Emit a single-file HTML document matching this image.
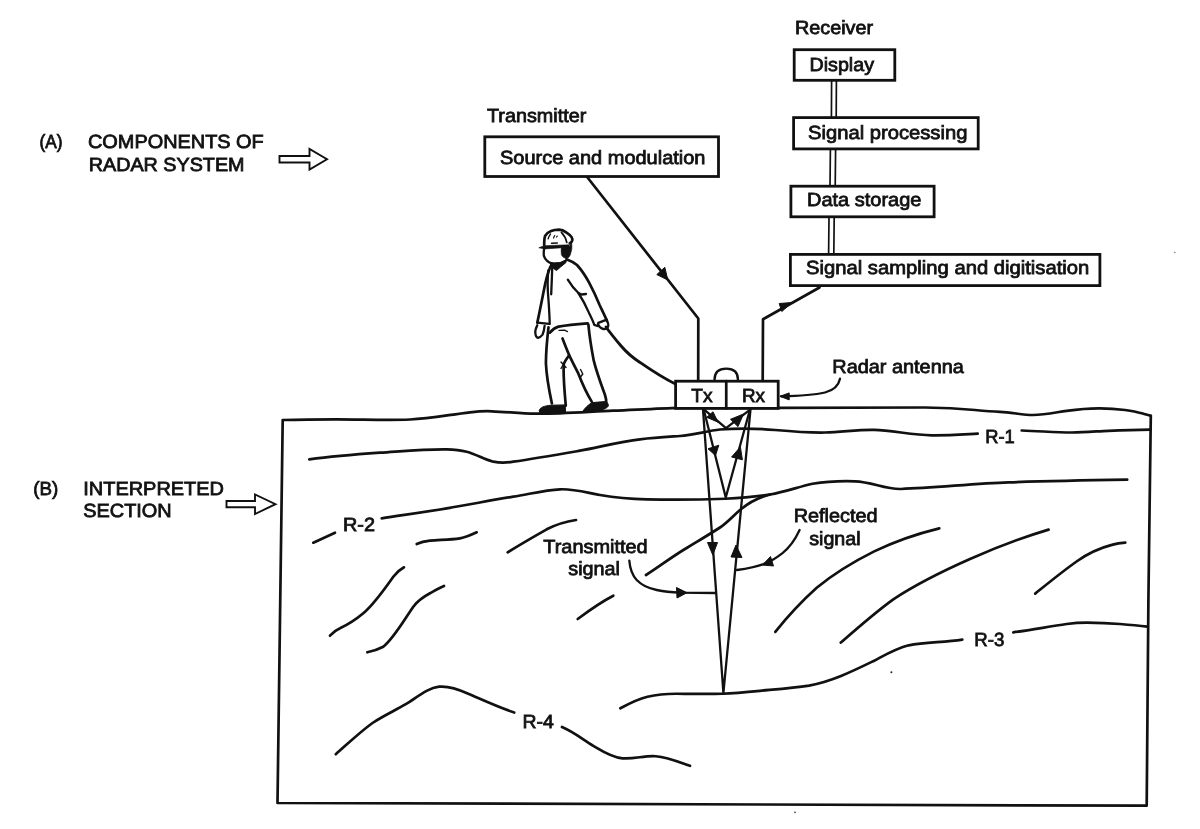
<!DOCTYPE html>
<html lang="en">
<head>
<meta charset="utf-8">
<title>Ground penetrating radar system</title>
<style>
html,body{margin:0;padding:0;background:#fff;}
body{width:1200px;height:829px;overflow:hidden;}
svg{display:block;filter:grayscale(1);}
text{text-rendering:geometricPrecision;font-family:"Liberation Sans",Arial,Helvetica,sans-serif;font-size:19px;fill:#111;stroke:#111;stroke-width:0.8px;}
.ln{fill:none;stroke:#111;stroke-width:2.7;stroke-linecap:round;stroke-linejoin:round;}
.th{fill:none;stroke:#111;stroke-width:2.3;stroke-linecap:round;stroke-linejoin:round;}
.bx{fill:#fff;stroke:#111;stroke-width:2.8;}
.fl{fill:#111;stroke:#111;stroke-width:1;stroke-linejoin:round;}
.ar{fill:#fff;stroke:#111;stroke-width:1.9;stroke-linejoin:miter;}
</style>
</head>
<body>
<svg width="1200" height="829" viewBox="0 0 1200 829">
<rect x="0" y="0" width="1200" height="829" fill="#fff"/>

<!-- ===== labels left ===== -->
<g id="labels">
<text x="39.5" y="147.5" textLength="23" lengthAdjust="spacingAndGlyphs">(A)</text>
<text x="88" y="147.5" textLength="175.75" lengthAdjust="spacingAndGlyphs">COMPONENTS OF</text>
<text x="88.75" y="171.25" textLength="155.75" lengthAdjust="spacingAndGlyphs">RADAR SYSTEM</text>
<path class="ar" d="M279.5 156 L309.5 156 L309.5 149 L327 159.2 L309.5 169.5 L309.5 162.5 L279.5 162.5 Z"/>
<text x="33.3" y="495" textLength="25" lengthAdjust="spacingAndGlyphs">(B)</text>
<text x="83.3" y="495" textLength="140.7" lengthAdjust="spacingAndGlyphs">INTERPRETED</text>
<text x="83.3" y="516.7" textLength="88.4" lengthAdjust="spacingAndGlyphs">SECTION</text>
<path class="ar" d="M226.5 501 L255 501 L255 494.5 L275.5 504.2 L255 514 L255 507.3 L226.5 507.3 Z"/>
</g>

<!-- ===== transmitter ===== -->
<g id="transmitter">
<text x="487" y="122" textLength="99.25" lengthAdjust="spacingAndGlyphs">Transmitter</text>
<rect class="bx" x="484.8" y="136.8" width="233.7" height="39.7"/>
<text x="500" y="164.25" textLength="205.5" lengthAdjust="spacingAndGlyphs">Source and modulation</text>
<path class="ln" d="M587.5 177.5 L698.3 318.5 L698.2 380"/>
<path class="fl" d="M667.8 280 L656.8 274.6 L664.8 267.3 Z"/>
</g>

<!-- ===== receiver ===== -->
<g id="receiver">
<text x="795" y="34" textLength="78" lengthAdjust="spacingAndGlyphs">Receiver</text>
<path class="th" style="stroke-width:1.7" d="M831.6 81 L831.4 118 M836.4 81 L836.2 118 M830.4 149 L830 187 M835.6 149 L835.2 187 M829 217 L828.6 255 M834.2 217 L833.8 255"/>
<rect class="bx" x="794.2" y="49.7" width="100.6" height="30.6"/>
<text x="809.5" y="70.5" textLength="64.5" lengthAdjust="spacingAndGlyphs">Display</text>
<rect class="bx" x="793.6" y="117.6" width="184.6" height="31.3"/>
<text x="808.1" y="139.4" textLength="159.3" lengthAdjust="spacingAndGlyphs">Signal processing</text>
<rect class="bx" x="790.9" y="186.2" width="143.2" height="30.6"/>
<text x="807" y="206.3" textLength="114.4" lengthAdjust="spacingAndGlyphs">Data storage</text>
<rect class="bx" x="790.4" y="254.4" width="309.5" height="31.2"/>
<text x="806" y="274.4" textLength="283.3" lengthAdjust="spacingAndGlyphs">Signal sampling and digitisation</text>
<path class="ln" d="M762.7 380 L763 319.3 L819.5 287.5"/>
<path class="fl" d="M792 302.5 L781.8 311.5 L779.2 303.5 Z"/>
</g>

<!-- ===== section box and ground ===== -->
<g id="section">
<path class="ln" d="M282.7 420 L277.5 803 L1146.7 805.7 L1148.4 600 L1150.8 415.8"/>
<!-- ground surface -->
<path class="ln" d="M283.3 420 C300 419.6 318 419.4 335 419.3 C360 419.2 385 420.4 410 419.5 C430 418.6 450 414.6 470 412.3 C478 411.4 485 411 492 411.3 C506 411.8 520 413.4 535 413.7 C560 414 590 411.6 613.3 410.7 C640 409.5 660 408.3 680 407.8 L779 407.8 C830 407.3 880 407.2 925 407.5 C945 407.7 960 408.6 975 410 C985 410.9 993 411.5 1000 411.8 C1012 412.4 1023 415 1033 415 C1045 415 1056 412.3 1066.7 410.8 C1078 409.2 1089 408.2 1100 408.3 C1109 408.4 1117 409 1125 410 C1131 410.9 1137 412 1141.7 413.3 C1145 414.2 1148 415 1150.8 415.8"/>
<!-- R-1 -->
<path class="ln" d="M309.3 459.3 C335 456 355 454.5 380 452.7 C405 451 425 449 446.7 449.3 C455 449.5 460 450 466.7 451.7 C477 454.5 484 459.5 493.3 461.7 C500 463 507 462.8 513.3 461.7 C535 458.5 558 454.5 580 450.7 C600 447 620 441.5 640 439.3 C655 437.5 665 437 680 436 C693 435 707 431 720 429.5 C740 428 758 428.5 775 430 C792 431.5 808 432.8 825 432.5 C842 432.2 858 429.5 874.2 429.9 C892 430.3 912 435 931.7 435.3 C948 435.5 962 434.5 977.7 433.7"/>
<text x="985.3" y="443" textLength="29.5" lengthAdjust="spacingAndGlyphs">R-1</text>
<path class="ln" d="M1021.7 430.5 C1040 431 1055 432.5 1071.7 432.5 C1085 432.3 1097 431.3 1108.3 430.8 C1122 430.3 1136 429.9 1150 429.7"/>
<!-- R-2 / second horizon -->
<path class="ln" d="M313.3 542.7 L335 532.7"/>
<text x="343" y="530.5" textLength="32" lengthAdjust="spacingAndGlyphs">R-2</text>
<path class="ln" d="M381.7 518.3 C403 515 425 512 446.7 508.3 C470 504.5 492 500 513.3 496.7 C530 494 545 490 560 489.3 C574 488.7 586 492.5 600 495 C615 497.6 630 499 646.7 499.3 C660 499.6 690 500 725 498.75 C742 498 756 496.8 770 494.5 C785 492 798 487 812.5 483.75 C826 481.5 838 480.8 855 481.3 C872 481.8 885 489.5 901 489 C935 487.8 975 483.5 1008.3 482.4 C1050 481 1090 480.3 1127.2 479.7"/>
<!-- rising limb below second horizon -->
<path class="ln" d="M646 575 C660 566 673 556 687.5 547.5 C699 540.5 710 534 720 527.5 C727 523 733 516 740 510 C749 502.5 758 497.5 770 494.5"/>
<!-- short dipping reflectors left -->
<path class="ln" d="M416.7 544 C421 542 425 541.2 430 540.7 C440 539.8 450 539.8 460 538.3 C466 537.3 471 535 476.7 532.3"/>
<path class="ln" d="M507.7 552.3 C520 544.5 534 536.5 546.7 529.3 C556 524.5 566 521.5 576 520"/>
<path class="ln" d="M330 635.7 C333 632.5 336 630 340 628.3 C348 624.5 356 619.5 363.3 613.3 C374 604 384 590 393.3 576.7 C396.5 572.5 400 569.5 404 567.3"/>
<path class="ln" d="M367.3 652.3 C373 651 378 649.5 383.3 646.7 C394 638 404 620 413.3 606.7 C418 600.5 424 596.5 430 593.3 C435 590.5 439 588 444 586"/>
<path class="ln" d="M577.7 619 C589 610.5 601 602 613.3 595.7"/>
<!-- dipping reflectors right -->
<path class="ln" d="M775.3 631.9 C788 616 802 601 816.7 587.8 C834 573.5 854 561.5 874.2 551.4 C895 541.5 917 533.8 939.3 528.4"/>
<path class="ln" d="M840.8 642.6 C858 627.5 875 612.5 893.3 599.3 C918 583 944 570.5 970 559 C996 547.5 1022 537.5 1048.6 529.6"/>
<path class="ln" d="M1035.2 593.6 C1049 582.5 1063 571 1077.3 561 C1088 553.5 1100 548 1111.8 544.9 C1116 543.6 1121 542.8 1125.3 542.6"/>
<!-- R-3 -->
<path class="ln" d="M620.4 708.3 C629 703.5 638 699 647.5 696.7 C657 694.5 667 693.7 676.7 693.75 C692 693.9 707 694.2 722.5 693.75 C735 693.3 748 692 760 690.8 C776 689.3 793 688 809 685.6 C832 681.5 853 671 874.2 660.7 C886 654.5 896 648.5 908.7 645.3 C926 642 944 642.5 962.3 639.6"/>
<text x="974.3" y="646" textLength="30" lengthAdjust="spacingAndGlyphs">R-3</text>
<path class="ln" d="M1013.3 632.3 C1031 630 1049 626.5 1066.7 624 C1073 623.2 1080 622.7 1086.7 622.7 C1098 622.8 1109 623.2 1120 624 C1129 624.7 1138 625.5 1147.3 626.7"/>
<!-- R-4 -->
<path class="ln" d="M335.8 754.2 C348 743.5 360 732 372.5 723 C383 716 395 710.5 405.8 704.2 C417 697.5 427 688 439.2 686.7 C449 685.8 459 689.5 468.3 693.75 C484 700.5 499 707.5 514.2 712.5"/>
<text x="522.5" y="728" textLength="31.25" lengthAdjust="spacingAndGlyphs">R-4</text>
<path class="ln" d="M562 727 C573 731.5 583 739.5 593.3 745.8 C602 751 612 757.5 622.5 758.3 C634 759.3 645 755.3 655.8 756.25 C668 757.3 679 762 690 765.8"/>
<circle cx="891.4" cy="672.2" r="1" fill="#222"/>
<circle cx="1174.8" cy="252.5" r="0.8" fill="#777"/>
<circle cx="795" cy="812.3" r="0.9" fill="#444"/>
</g>

<!-- ===== ray paths ===== -->
<g id="rays">
<path class="th" d="M703 409.5 L723.4 693 L750.5 409.5"/>
<path class="th" d="M703.75 409.5 L725.75 497.5 L750 409.5"/>
<path class="th" d="M704.5 409.8 L726 428.2 L749.5 410.2"/>
<!-- arrowheads small V -->
<path class="fl" d="M718 422.2 L706.8 417.3 L713 411.8 Z"/>
<path class="fl" d="M743.5 414 L730.5 419.3 L738 426.6 Z"/>
<!-- arrowheads medium V -->
<path class="fl" d="M715.5 455.5 L708 448.8 L718.8 445.2 Z"/>
<path class="fl" d="M740.4 446.9 L731.6 457 L742.4 459.8 Z"/>
<!-- arrowheads long V -->
<path class="fl" d="M712.8 555 L707.5 542.5 L717.5 542.5 Z"/>
<path class="fl" d="M736 545 L742 557.5 L731 557 Z"/>
<!-- Transmitted label & arrow -->
<text x="543.3" y="552.7" textLength="104.4" lengthAdjust="spacingAndGlyphs">Transmitted</text>
<text x="568.3" y="575" textLength="51.7" lengthAdjust="spacingAndGlyphs">signal</text>
<path class="th" d="M629.3 560.7 C630 569 632 575 636.7 580 C642 585.5 649 588.5 656.7 590 C665 591.8 672 592.4 680 592.7 L715 593"/>
<path class="fl" d="M687 592.7 L676.5 587.5 L677 598 Z"/>
<!-- Reflected label & arrow -->
<text x="793.7" y="521.8" textLength="84" lengthAdjust="spacingAndGlyphs">Reflected</text>
<text x="809.2" y="545" textLength="51.4" lengthAdjust="spacingAndGlyphs">signal</text>
<path class="th" d="M799.6 530 C795 540 789 548 782.2 553.3 C776 558 771 561 766.8 562.9 C758 566.5 748 568.5 737 570"/>
<path class="fl" d="M762.5 565 L770.5 556.5 L773.5 566 Z"/>
</g>

<!-- ===== antenna ===== -->
<g id="antenna">
<path class="th" d="M714.5 380 C714.5 372 719.5 368.7 726.25 368.7 C733 368.7 738 372 738 380"/>
<rect class="bx" x="675.6" y="381.2" width="102.6" height="27.2"/>
<path class="ln" d="M726.25 381.2 V408.4"/>
<text x="691.25" y="401.8" textLength="21.25" lengthAdjust="spacingAndGlyphs">Tx</text>
<text x="742" y="401.8" textLength="23" lengthAdjust="spacingAndGlyphs">Rx</text>
<text x="832.3" y="372.9" textLength="131.5" lengthAdjust="spacingAndGlyphs">Radar antenna</text>
<path class="th" d="M840 378.75 C838.5 386 833 390.5 825 392.5 C812 395.5 797 396 781 396.3"/>
<path class="fl" d="M780 396.3 L789.2 392.9 L789.2 399.9 Z"/>
</g>

<!-- ===== operator ===== -->
<g id="person">
<!-- cable -->
<path class="ln" style="stroke-width:2.9" d="M606 327 C611 334 616 340 620.9 345.8 C627 353 633 358 640 362.4 C651 370 662 377.5 675 383.75"/>
<!-- helmet -->
<path class="ln" d="M544.2 245 C544.2 241 544.3 238 545.1 235.9 C546.5 233.3 548.5 232 551.1 231 C553.5 230 556 229.6 559 229.6 C561.8 229.7 564.2 230.8 566.2 232.3 C568.5 233.8 570.5 235.3 571.6 237.1 C572.3 238.3 572.5 239.5 572.2 240.7 C571.8 242 571 242.8 569.8 243.3"/>
<path class="th" style="stroke-width:1.7" d="M561.4 232.3 C564 235 566 238.5 566.8 242.5"/>
<path class="th" style="stroke-width:1.4" d="M548.1 238.9 C548.6 237 549.4 235.3 550.5 234.1"/>
<path class="th" style="stroke-width:1.2" d="M553.5 238 L554.7 235.6 M556.6 237 L557.2 236.1"/>
<path class="th" style="stroke-width:1.5" d="M551.5 243.3 L557.3 243.1"/>
<path class="fl" style="stroke-width:0.6" d="M538.8 247.8 L544 245.7 L569.2 244.8 L569.2 247.3 L545 248.9 Z"/>
<!-- hair -->
<path class="fl" style="stroke-width:0.6" d="M561.4 247.3 L569.5 246.5 L571.6 241.9 L571.9 246 C571.9 249 571.5 251 571 252.2 C570.6 254.5 569.8 256.3 568.6 257.6 C567 258.6 565.2 258.4 563.8 257.6 C562.5 256.8 561.7 255.6 561.4 254.6 C561 252 561.1 249.5 561.4 247.3 Z"/>
<!-- face -->
<path class="th" d="M544.2 248.5 C543.7 251 543.6 253.5 543.9 255.8 C544.5 257.8 545.5 259.4 546.9 260.6 C548 261.7 549.3 262.5 550.5 263 L553 263.4"/>
<!-- collar -->
<path class="fl" d="M550.5 264 L554.5 262.8 L560 262.6 L566.5 259.6 L566 262.5 L560.5 267 L556.5 270.5 L553.5 268.5 L550.8 266.8 Z"/>
<!-- back and rear arm outer -->
<path class="ln" d="M566.5 259.2 C570 260.5 574 262.5 577 265 C582 270.5 585.5 276 589 282.4 C593 290 596.5 297.5 599.6 305 C602.5 311 605 316 607 320.9"/>
<!-- rear arm inner -->
<path class="th" d="M567.8 279.7 C571 285 574.5 289.5 578.4 293 C583 300 586 306 589 312.9 C591 317 593 321 594.3 324.9 L597.5 326"/>
<path class="th" d="M578.4 293 L581.5 294.5 L586 294"/>
<!-- rear cuff + hand -->
<path class="th" d="M598.3 322.8 L606.8 319.6"/>
<path class="th" d="M598 324 C599 326.5 601 328.5 603.5 329 C606 329.3 608 328 608.3 325.5 C608.4 324 607.8 322.3 607 320.9"/>
<!-- front arm -->
<path class="ln" d="M550.5 266.5 C548 272 546.5 278 545.2 283.7 C542.5 297 540 310 537.3 322.6"/>
<path class="th" d="M548.3 270.5 C547.3 280 547.5 290 548.5 300 C549 308 549.6 316 549.7 323.9"/>
<path class="th" d="M552.2 268.5 C551.9 277 551.6 286 551.2 294.3"/>
<path class="th" d="M537.3 322.6 L549.2 323.9"/>
<path class="th" d="M537.3 325.3 C536 328 535 330.5 535.3 332.6 C535.5 335.5 536.5 337.5 537.9 337.9 C540 337.5 541.5 336 542.6 334.6 C543.8 332 544.3 329 544.6 325.9"/>
<!-- jacket hem -->
<path class="ln" d="M549.9 332.6 C552 330 555 327.5 558.5 326.6 C568 324.8 578 324 587.7 323.3"/>
<path class="th" style="stroke-width:1.3" d="M559 330.3 L564.5 330.2 L567.5 331.6"/>
<!-- legs -->
<path class="ln" d="M548.5 327.3 C547 340 546 352 545.9 363.1 C546.5 377 549 390 551.9 403.5"/>
<path class="ln" d="M569.1 355.1 C566 360 564.5 362 563.8 364 C563 376 564.5 391 565.8 405.6"/>
<path class="ln" d="M562.5 338.5 C565 345 567 350 569.1 355.1 C572 361 575.5 368 578.4 373.7 C582 383 586.5 393 591.7 401.6"/>
<path class="ln" d="M588.4 324.6 C589.5 337 591.5 349 593.7 360.4 C596.5 372 601 384 605 395 C606 398 606.3 400.5 606.3 402.9"/>
<path class="th" style="stroke-width:1.4" d="M561 362 L566 367.5 M565 361.5 L561 368.5 M580.5 369.5 L582.8 374 L580.5 377"/>
<!-- shoes -->
<path class="fl" d="M539.2 410.5 C540 407.5 544 405.8 551 405.2 L565.2 404.9 L565.6 412.6 L540 413.2 Z"/>
<path class="fl" d="M582.4 411.8 C585 408 588 405 592 402.6 L605 401.6 C607.5 402 608.6 404 608.3 406.2 C606 408.8 602 410.3 596 411.2 Z"/>
</g>

</svg>
</body>
</html>
